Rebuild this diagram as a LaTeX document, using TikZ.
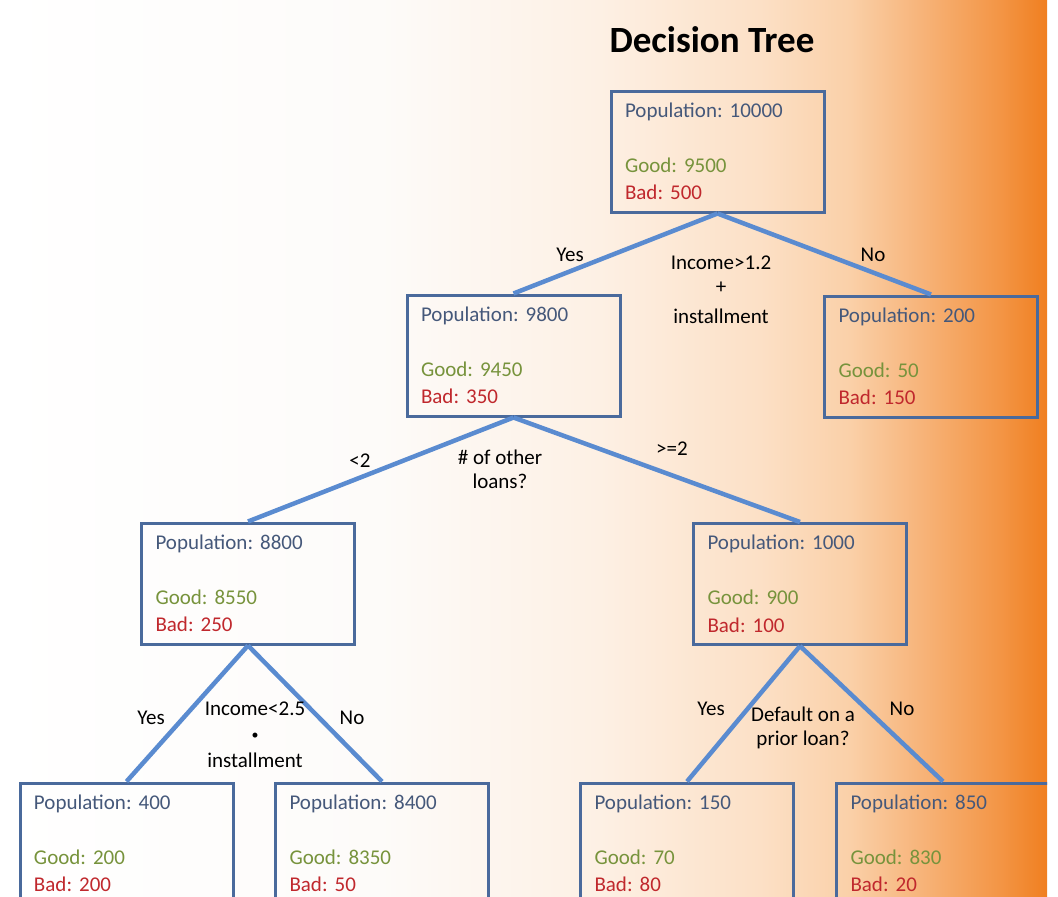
\documentclass[tikz,border=0pt]{standalone}
\usepackage{fontspec}
\setmainfont{Carlito}
\frenchspacing
\definecolor{bg1}{HTML}{FDFBF9}
\definecolor{bg2}{HTML}{FDF0E4}
\definecolor{bg3}{HTML}{FCE0C6}
\definecolor{bg4}{HTML}{FAD0A8}
\definecolor{bg5}{HTML}{F7B47A}
\definecolor{bg6}{HTML}{F39545}
\definecolor{bg7}{HTML}{F07F20}
\definecolor{boxc}{HTML}{4A6A9C}
\definecolor{linec}{HTML}{5A8BD0}
\definecolor{popc}{HTML}{45587A}
\definecolor{goodc}{HTML}{77933C}
\definecolor{badc}{HTML}{C0282D}
% path x in [0,1047] maps to shading x in [25bp,75bp]
\pgfdeclarehorizontalshading{bgshade}{100bp}{color(0bp)=(white); color(25bp)=(white); color(43.15bp)=(bg1); color(53.65bp)=(bg2); color(61.29bp)=(bg3); color(65.59bp)=(bg4); color(68.93bp)=(bg5); color(72.76bp)=(bg6); color(75bp)=(bg7); color(100bp)=(bg7)}
\tikzset{
  treebox/.style={draw=boxc, line width=3pt, rectangle, minimum width=213pt, minimum height=121pt,
    text width=185pt, align=left, inner sep=0pt, font=\fontsize{21}{27.5}\selectfont},
  conn/.style={draw=linec, line width=4.5pt},
  lab/.style={font=\fontsize{21}{24}\selectfont, text=black, inner sep=0pt, align=center},
}
\newcommand{\boxtext}[3]{\textcolor{popc}{Population: #1}\\ ~\\ \textcolor{goodc}{Good: #2}\\ \textcolor{badc}{Bad: #3}}
\begin{document}
\begin{tikzpicture}[x=1pt,y=-1pt]
\useasboundingbox (0,0) rectangle (1058,897);
\begin{scope}
\clip (0,0) rectangle (1047,897);
\shade[shading=bgshade] (0,0) rectangle (1047,897);
\node[font=\fontsize{37}{40}\selectfont\bfseries, inner sep=0pt] (title) at (712,40) {Decision Tree};

\node[treebox] (n10000) at (717.5,151.5) {\boxtext{10000}{9500}{500}};
\node[treebox] (n9800) at (513.5,355.5) {\boxtext{9800}{9450}{350}};
\node[treebox] (n200) at (931,356.5) {\boxtext{200}{50}{150}};
\node[treebox] (n8800) at (248,583.5) {\boxtext{8800}{8550}{250}};
\node[treebox] (n1000) at (800,584) {\boxtext{1000}{900}{100}};
\node[treebox] (n400) at (126.5,843.5) {\boxtext{400}{200}{200}};
\node[treebox] (n8400) at (382,843.5) {\boxtext{8400}{8350}{50}};
\node[treebox] (n150) at (687,843.5) {\boxtext{150}{70}{80}};
\node[treebox] (n850) at (943,843.5) {\boxtext{850}{830}{20}};

\draw[conn] (n10000.south) -- (n9800.north);
\draw[conn] (n10000.south) -- (n200.north);
\draw[conn] (n9800.south) -- (n8800.north);
\draw[conn] (n9800.south) -- (n1000.north);
\draw[conn] (n8800.south) -- (n400.north);
\draw[conn] (n8800.south) -- (n8400.north);
\draw[conn] (n1000.south) -- (n150.north);
\draw[conn] (n1000.south) -- (n850.north);

\node[lab] (yes1) at (570,255) {Yes};
\node[lab] (no1) at (873,255) {No};
\node[lab, anchor=north] (q1) at (721,256) {Income>1.2\\ +\\[6pt] installment};

\node[lab] (lt2) at (360,461) {<2};
\node[lab] (ge2) at (672,449) {>=2};
\node[lab, anchor=north] (q2) at (500,450) {\# of other\\ loans?};

\node[lab] (yes3) at (151,718) {Yes};
\node[lab] (no3) at (352,718) {No};
\node[lab, anchor=north] (q3) at (255,702) {Income<2.5\\ {\fontsize{14}{24}\selectfont •}\\[4pt] installment};

\node[lab] (yes4) at (711,709) {Yes};
\node[lab] (no4) at (902,709) {No};
\node[lab, anchor=north] (q4) at (803,707) {Default on a\\ prior loan?};
\end{scope}
\end{tikzpicture}
\end{document}
